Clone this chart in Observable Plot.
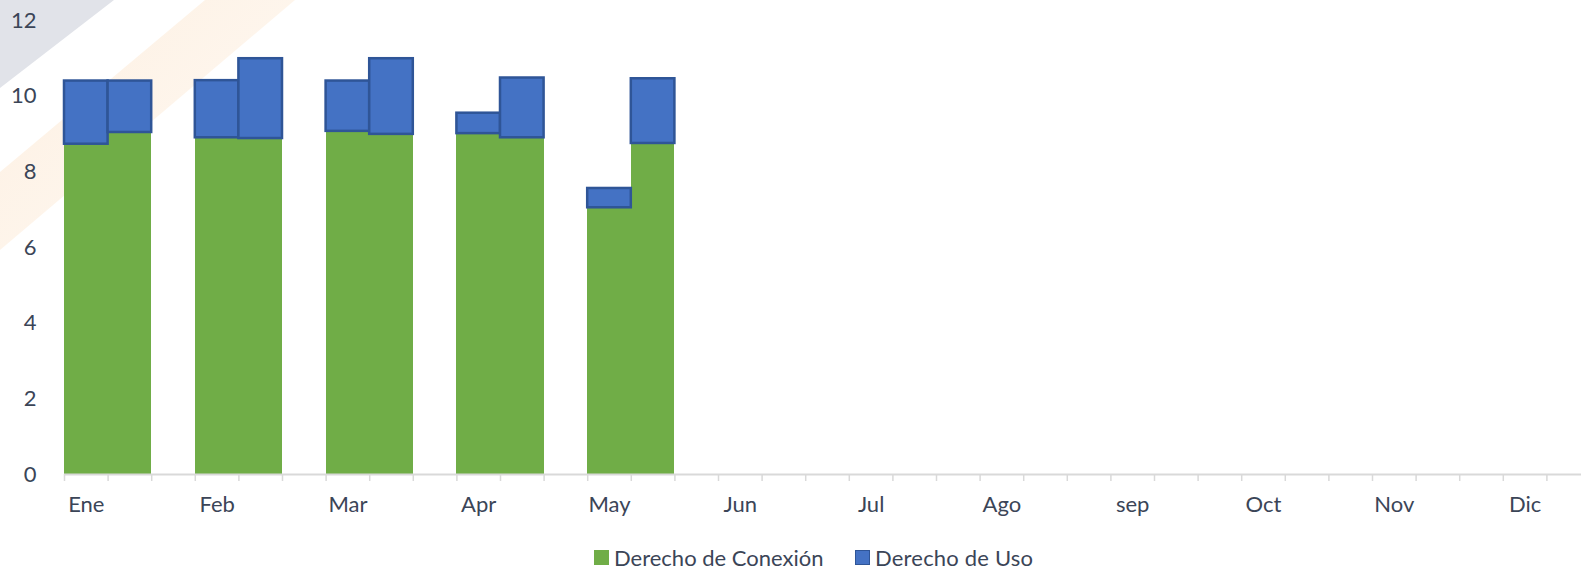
<!DOCTYPE html>
<html>
<head>
<meta charset="utf-8">
<script src="https://cdn.jsdelivr.net/npm/d3@7"></script>
<script src="https://cdn.jsdelivr.net/npm/@observablehq/plot@0.6"></script>
<style>
  html, body { margin: 0; padding: 0; background: #fff; overflow: hidden; }
  #wrap { position: relative; width: 1581px; height: 569px; overflow: hidden; font-family: Lato, sans-serif; }
  .deco { position: absolute; left: 0; top: 0; width: 400px; height: 320px; }
  #gray { background: #E1E3E9; clip-path: polygon(0 0, 114px 0, 0 88px); }
  #orange { background: linear-gradient(135deg, rgba(253,236,218,0.8) 0%, rgba(253,240,226,0.5) 60%, rgba(255,255,255,0) 100%);
            clip-path: polygon(205px 0, 295px 0, 0 250px, 0 172px); }
  #chart { position: absolute; left: 0; top: 0; }
  #chart svg { background: transparent; overflow: hidden; }
  #legend { position: absolute; top: 544px; left: 0; height: 26px; font-size: 22px; color: #3b4557; white-space: nowrap; }
  .item { position: absolute; top: 0; display: flex; align-items: center; height: 26px; }
  .sw { display: inline-block; width: 15px; height: 15px; margin-right: 5px; box-sizing: border-box; }
</style>
</head>
<body>
<div id="wrap">
  <div class="deco" id="gray"></div>
  <div class="deco" id="orange"></div>
  <div id="chart"></div>
  <div id="legend">
    <div class="item" style="left:594px"><span class="sw" style="background:#70AD47"></span>Derecho de Conexión</div>
    <div class="item" style="left:855px;letter-spacing:0.2px"><span class="sw" style="background:#4472C4;border:1.5px solid #2F5597"></span>Derecho de Uso</div>
  </div>
</div>
<script>
// ---- data ----
const months = ["Ene", "Feb", "Mar", "Apr", "May", "Jun", "Jul", "Ago", "sep", "Oct", "Nov", "Dic"];
// first bar of each month
const conexion1 = [8.73, 8.90, 9.07, 9.01, 7.05];
const uso1      = [1.67, 1.51, 1.33, 0.54, 0.51];
// second bar of each month
const conexion2 = [9.04, 8.88, 8.99, 8.90, 8.75];
const uso2      = [1.36, 2.11, 2.00, 1.58, 1.71];
const yTicks = [0, 2, 4, 6, 8, 10, 12];
const seriesNames = ["Derecho de Conexión", "Derecho de Uso"];

// ---- table: each month occupies 3 slots (bar 1, bar 2, gap) ----
const rows = [];
months.forEach((m, i) => {
  [[conexion1, uso1], [conexion2, uso2]].forEach(([con, uso], k) => {
    if (con[i] == null) return;
    const slot = 3 * i + k;
    rows.push({month: m, slot, series: seriesNames[0], y1: 0, y2: con[i]});
    rows.push({month: m, slot, series: seriesNames[1], y1: con[i], y2: con[i] + uso[i]});
  });
});
const conRows = rows.filter(d => d.series === seriesNames[0]);
const usoRows = rows.filter(d => d.series === seriesNames[1]);

const slotW = 43.6;
const left = 64;
const nSlots = months.length * 3;
const textColor = "#3b4557";

const plot = Plot.plot({
  width: 1581,
  height: 536,
  marginLeft: left,
  marginRight: 0,
  marginTop: 20,
  marginBottom: 62,
  style: {fontFamily: "Lato, sans-serif", fontSize: "22px", color: textColor, background: "transparent"},
  x: {type: "linear", domain: [0, nSlots], range: [left, left + nSlots * slotW], label: null},
  y: {domain: [0, 12], label: null},
  marks: [
    Plot.rectY(conRows, {x1: "slot", x2: d => d.slot + 1, y1: "y1", y2: "y2", fill: "#70AD47", shapeRendering: "crispEdges"}),
    Plot.rectY(usoRows, {x1: "slot", x2: d => d.slot + 1, y1: "y1", y2: "y2", fill: "#4472C4", stroke: "#2F5597", strokeWidth: 2.5}),
    Plot.ruleY([0], {stroke: "#D9D9D9", strokeWidth: 2}),
    Plot.axisX(d3.range(0, nSlots + 1), {tickSize: 7, tickFormat: () => "", stroke: "#D9D9D9", strokeWidth: 1.5, label: null}),
    Plot.axisX(months.map((m, i) => 3 * i + 0.5), {tickSize: 0, tickPadding: 22, tickFormat: v => months[Math.round((v - 0.5) / 3)], fill: textColor, fontSize: 22, label: null}),
    Plot.axisY(yTicks, {tickSize: 0, tickPadding: 28, fill: textColor, fontSize: 22, label: null})
  ]
});
document.getElementById("chart").appendChild(plot);
</script>
</body>
</html>
